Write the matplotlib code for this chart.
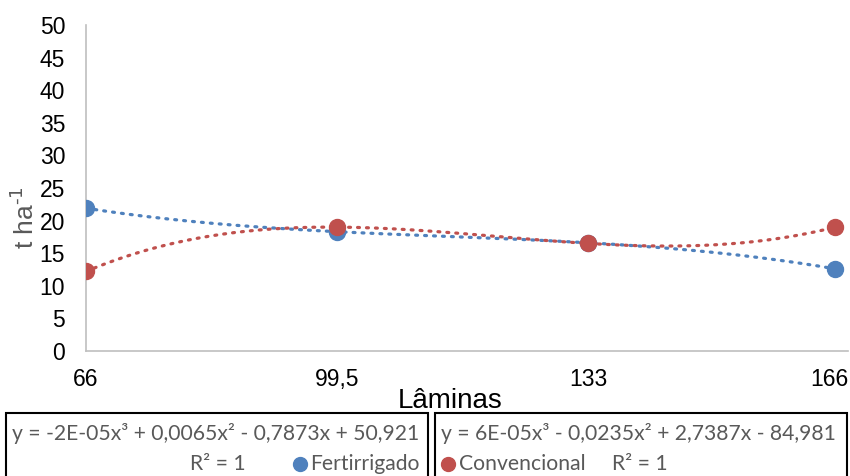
import matplotlib.pyplot as plt
import numpy as np
from matplotlib.patches import Rectangle
from matplotlib.transforms import offset_copy

plt.rcParams['font.family'] = ['Liberation Sans', 'DejaVu Sans']

# data
laminas = [66, 99.5, 133, 166]
tick_labels = ["66", "99,5", "133", "166"]
fertirrigado = [21.9, 18.3, 16.6, 12.6]
convencional = [12.2, 19.0, 16.5, 19.0]

eq_fert = "y = -2E-05x³ + 0,0065x² - 0,7873x + 50,921"
eq_conv = "y = 6E-05x³ - 0,0235x² + 2,7387x - 84,981"

blue = "#4F81BD"
red = "#C0504D"

fig = plt.figure(figsize=(8.5, 4.76), dpi=100)
ax = fig.add_axes([86 / 850, 1 - 351 / 476, (848 - 86) / 850, (351 - 25) / 476])

xs = np.linspace(66, 166, 300)
for vals, col in [(fertirrigado, blue), (convencional, red)]:
    coef = np.polyfit(laminas, vals, 3)
    ax.plot(xs, np.polyval(coef, xs), color=col, lw=2.3, ls=(0, (0.6, 2.2)),
            dash_capstyle="round", zorder=2)
for vals, col in [(fertirrigado, blue), (convencional, red)]:
    ax.plot(laminas, vals, "o", color=col, ms=11.5, zorder=3)

ax.set_xlim(66, 167.7)
ax.set_ylim(0, 50)
ax.set_xticks(laminas)
ax.set_xticklabels(tick_labels)
ax.set_yticks(range(0, 51, 5))
ax.tick_params(length=0, labelsize=16.5)
ax.tick_params(axis="y", pad=15)
ax.tick_params(axis="x", pad=12)
# last label sits at the right edge, nudge it in
last = ax.get_xticklabels()[-1]
last.set_transform(offset_copy(last.get_transform(), fig=fig, x=-6, units="dots"))
for s in ["top", "right"]:
    ax.spines[s].set_visible(False)
for s in ["left", "bottom"]:
    ax.spines[s].set_color("#BFBFBF")
    ax.spines[s].set_linewidth(1.2)

ax.set_ylabel("t ha$^{\\text{-1}}$", fontsize=19, color="#595959")
ax.yaxis.set_label_coords(-0.062, 0.41)
ax.set_xlabel("Lâminas", fontsize=20)
ax.xaxis.set_label_coords(0.478, -0.115)

# trendline labels / legend boxes at the bottom
def px(x, y):
    return x / 850, 1 - y / 476

for x0, x1 in [(6, 428), (435, 847)]:
    fig.patches.append(Rectangle(px(x0, 480), (x1 - x0) / 850, 67 / 476,
                                 transform=fig.transFigure, fill=False,
                                 ec="black", lw=1.5))

fs = 15.2
tc = "#595959"
box_font = ["Lato", "DejaVu Sans"]
fig.text(*px(12, 434), eq_fert, ha="left", va="center", fontsize=fs, color=tc, family=box_font)
fig.text(*px(441, 434), eq_conv, ha="left", va="center", fontsize=fs, color=tc, family=box_font)
fig.text(*px(190, 464), "R² = 1", ha="left", va="center", fontsize=fs, color=tc, family=box_font)
fig.text(*px(612, 464), "R² = 1", ha="left", va="center", fontsize=fs, color=tc, family=box_font)
fig.lines.append(plt.Line2D([300 / 850], [1 - 464 / 476], marker="o", color=blue,
                            ms=10, transform=fig.transFigure))
fig.lines.append(plt.Line2D([448 / 850], [1 - 464 / 476], marker="o", color=red,
                            ms=10, transform=fig.transFigure))
fig.text(*px(310, 464), "Fertirrigado", ha="left", va="center", fontsize=fs, color=tc, family=box_font)
fig.text(*px(459, 464), "Convencional", ha="left", va="center", fontsize=fs, color=tc, family=box_font)

fig.savefig("out.png", dpi=100)
